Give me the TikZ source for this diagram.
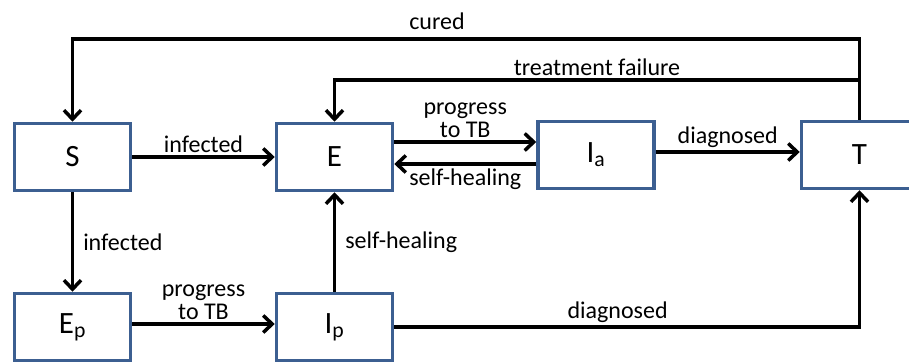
\documentclass[tikz,border=0pt]{standalone}
\usepackage{fontspec}
\setmainfont{Carlito}
\usetikzlibrary{arrows.meta}
\definecolor{boxblue}{HTML}{3C5F91}
\begin{document}
\begin{tikzpicture}[x=1pt,y=-1pt,
  box/.style={draw=boxblue,line width=3.5pt,minimum width=116pt,minimum height=67pt,inner sep=0pt,font=\fontsize{31}{34}\selectfont},
  arr/.style={line width=3.5pt,-{Straight Barb[length=9pt,width=17pt]}},
  lab/.style={font=\fontsize{24}{23}\selectfont,align=center,inner sep=3pt}]
\useasboundingbox (0,0) rectangle (909,363);
\node[box] (S) at (72.5,157) {S};
\node[box] (E) at (334.5,157) {E};
\node[box] (Ia) at (596,155) {I\textsubscript{a}};
\node[box] (T) at (859.5,155) {T};
\node[box] (Ep) at (72.5,327) {E\textsubscript{p}};
\node[box] (Ip) at (334.5,327) {I\textsubscript{p}};
\coordinate (cu) at (859.5,39);
\coordinate (tf) at (859.5,80);
\coordinate (ya) at (0,142);
\coordinate (yb) at (0,164);
\coordinate (yc) at (0,152);
\coordinate (yd) at (0,324);
\coordinate (ye) at (0,327);
\draw[arr] (T.north) -- (cu) -| (S.north);
\node[lab] (lcured) at (437,21) {cured};
\draw[arr] (tf) -| node[lab,pos=0.25,above] (ltf) {treatment failure} (E.north);
\draw[arr] (S.east) -- node[lab,above] (linf1) {infected} (E.west);
\draw[arr] (E.east |- ya) -- node[lab,above] (lprog1) {progress\\to TB} (Ia.west |- ya);
\draw[arr] (Ia.west |- yb) -- node[lab,below] (lsh1) {self-healing} (E.east |- yb);
\draw[arr] (Ia.east |- yc) -- node[lab,above] (ldiag1) {diagnosed} (T.west |- yc);
\draw[arr] (S.south) -- node[lab,right,xshift=6pt] (linf2) {infected} (Ep.north);
\draw[arr] (Ep.east |- yd) -- node[lab,above] (lprog2) {progress\\to TB} (Ip.west |- yd);
\draw[arr] (Ip.north) -- node[lab,right,xshift=6pt] (lsh2) {self-healing} (E.south);
\draw[arr] (Ip.east |- ye) -| node[lab,pos=0.24,above] (ldiag2) {diagnosed} (T.south);
\end{tikzpicture}
\end{document}
